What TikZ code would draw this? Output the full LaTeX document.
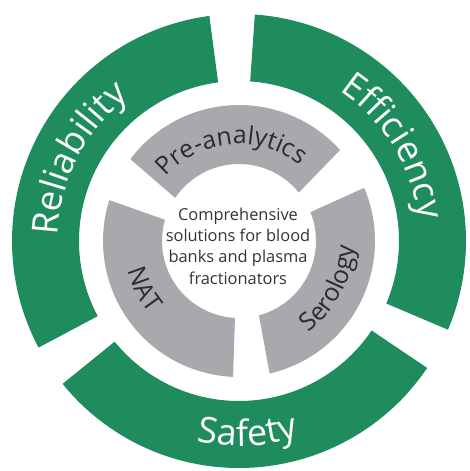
\documentclass[tikz,border=0pt]{standalone}
\usepackage{fontspec}
\setmainfont{Open Sans}
\usetikzlibrary{decorations.text}
\definecolor{ringgreen}{HTML}{1E8C5C}
\definecolor{segmentgrey}{HTML}{A7A9AC}
\definecolor{labeldark}{HTML}{2B2838}
\definecolor{centretext}{HTML}{333333}
\tikzset{
	outerseg/.style={fill=ringgreen},
	innerseg/.style={fill=segmentgrey},
	ringlabel/.style={decorate,decoration={text along path,text align=center,text={#1}}},
}
\newcommand{\outerlabel}{\fontsize{36}{36}\selectfont\color{white}}
\newcommand{\innerlabel}{\fontsize{25}{25}\selectfont\color{labeldark}}
\begin{document}
\begin{tikzpicture}[x=1pt,y=1pt]
			\useasboundingbox (-239,-230) rectangle (231,241);
			\fill[outerseg] (97.5:227pt) arc (97.5:208:227pt) -- (208:160pt) arc (208:97.5:160pt) -- cycle;
			\fill[outerseg] (-23:227pt) arc (-23:86:227pt) -- (86:160pt) arc (86:-23:160pt) -- cycle;
			\fill[outerseg] (219:227pt) arc (219:326:227pt) -- (326:160pt) arc (326:219:160pt) -- cycle;
			\fill[innerseg] (42:136pt) arc (42:143:136pt) -- (146:77pt) arc (146:39:77pt) -- cycle;
			\fill[innerseg] (162.5:136pt) arc (162.5:267.5:136pt) -- (267:77pt) arc (267:164:77pt) -- cycle;
			\fill[innerseg] (-77:136pt) arc (-77:23:136pt) -- (22:77pt) arc (22:-75:77pt) -- cycle;
			\path[ringlabel={|\outerlabel|Reliability}] (208:181pt) arc (208:97.5:181pt);
			\path[ringlabel={|\outerlabel|Efficiency}] (86:181pt) arc (86:-23:181pt);
			\path[ringlabel={|\outerlabel|Safety}] (219:205pt) arc (219:326:205pt);
			\path[ringlabel={|\innerlabel|Pre-analytics}] (150:97pt) arc (150:40:97pt);
			\path[ringlabel={|\innerlabel|NAT}] (160:115pt) arc (160:254:115pt);
			\path[ringlabel={|\innerlabel|Serology}] (-77:115pt) arc (-77:22:115pt);
			\node[align=center,text=centretext,font=\fontsize{16.4}{21.3}\selectfont] (centre) at (-1,-5) {Comprehensive\\solutions for blood\\banks and plasma\\fractionators};
		\end{tikzpicture}
\end{document}
